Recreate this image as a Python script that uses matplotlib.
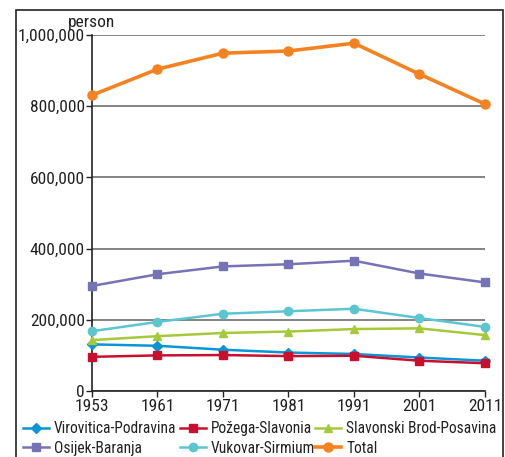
import matplotlib
matplotlib.use("Agg")
import matplotlib.pyplot as plt
from matplotlib.patches import Rectangle
from matplotlib.ticker import FuncFormatter

plt.rcParams['font.family'] = ['Roboto Condensed', 'Liberation Sans', 'DejaVu Sans']

years = ["1953", "1961", "1971", "1981", "1991", "2001", "2011"]
virovitica = [131000, 127000, 116000, 108000, 104000, 94000, 85000]
pozega = [96000, 100000, 101000, 98000, 99000, 85000, 78000]
slavonski = [143000, 154000, 163000, 167000, 174000, 176000, 157000]
osijek = [295000, 328000, 350000, 356000, 366000, 330000, 305000]
vukovar = [168000, 194000, 217000, 224000, 231000, 205000, 180000]
total = [831000, 904000, 949000, 955000, 977000, 890000, 806000]

series = [
    ("Virovitica-Podravina", virovitica, "#0a96d6", "D", 5, 1.8),
    ("Požega-Slavonia", pozega, "#c8102e", "s", 5.5, 1.8),
    ("Slavonski Brod-Posavina", slavonski, "#a5c93b", "^", 6, 1.8),
    ("Osijek-Baranja", osijek, "#7672b6", "s", 5.5, 1.8),
    ("Vukovar-Sirmium", vukovar, "#5cc6d0", "o", 6, 1.8),
    ("Total", total, "#f58220", "o", 6.5, 2.6),
]

fig = plt.figure(figsize=(5.06, 4.57), dpi=100)
ax = fig.add_axes([92/506, 1-391/457, (485-92)/506, (391-35)/457])

x = list(range(len(years)))
for name, vals, col, mk, ms, lw in series:
    ax.plot(x, vals, color=col, marker=mk, markersize=ms, linewidth=lw,
            label=name, clip_on=False, zorder=3)

ax.set_xlim(0, len(years)-1)
ax.set_ylim(0, 1000000)
ax.set_xticks(x)
ax.set_xticklabels(years)
ax.set_yticks([0, 200000, 400000, 600000, 800000, 1000000])
ax.yaxis.set_major_formatter(FuncFormatter(lambda v, p: f"{int(v):,}"))
ax.grid(axis='y', color='#7a7a7a', linewidth=1.3, zorder=1)
for s in ['top', 'right']:
    ax.spines[s].set_visible(False)
for s in ['left', 'bottom']:
    ax.spines[s].set_color('#222222')
    ax.spines[s].set_linewidth(1.2)
ax.tick_params(axis='both', labelsize=12.5, colors='#222222', length=4, width=1)
ax.tick_params(axis='y', pad=1)
ax.tick_params(axis='x', pad=2)

ax.text(0, 1.015, "person", transform=ax.transAxes, ha='center', va='bottom',
        fontsize=12.5, color='#222222')

handles, labels = ax.get_legend_handles_labels()
columns = [(0, 3, 23), (1, 4, 180), (2, 5, 315)]
for i, j, xpx in columns:
    leg = fig.legend([handles[i], handles[j]], [labels[i], labels[j]],
                     loc='upper left', bbox_to_anchor=(xpx/506, 1-421/457),
                     ncol=1, frameon=False, fontsize=11.2, handlelength=1.7,
                     handletextpad=0.3, labelspacing=0.3,
                     borderaxespad=0, borderpad=0, labelcolor='#222222')

fig.patches.append(Rectangle((16/506, -0.01), (503-16)/506, 1-10/457+0.01,
                             transform=fig.transFigure, fill=False,
                             edgecolor='#222222', linewidth=1.2))

fig.savefig("out.png", dpi=100)
